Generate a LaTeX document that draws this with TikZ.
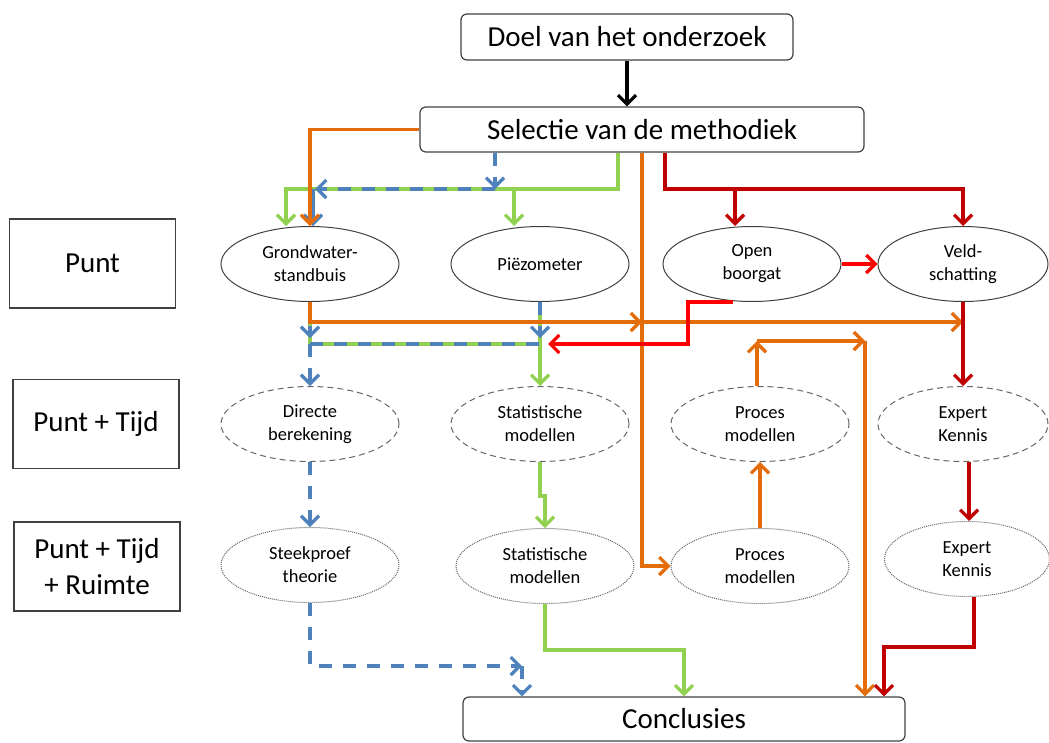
\documentclass[tikz,border=0pt]{standalone}
\usepackage{fontspec}
\setmainfont{Carlito}
\usetikzlibrary{shapes.geometric,arrows.meta}
\usepackage{xcolor}

\definecolor{oranje}{HTML}{E46C0A}
\definecolor{groen}{HTML}{92D050}
\definecolor{blauw}{HTML}{4F81BD}
\definecolor{donkerrood}{HTML}{C00000}
\definecolor{rood}{HTML}{FF0000}

\begin{document}
\begin{tikzpicture}[x=1pt, y=-1pt,
	box/.style={draw=black!75, rounded corners=6pt, line width=1.2pt, minimum width=332pt, minimum height=46pt, font=\fontsize{29}{34}\selectfont},
	niveau/.style={draw=black!75, line width=1.2pt, minimum width=166pt, minimum height=89pt, align=center, font=\fontsize{29}{36}\selectfont},
	meting/.style={ellipse, draw=black!75, line width=1pt, minimum width=178pt, minimum height=75pt, inner sep=0pt, align=center, font=\fontsize{18.5}{23}\selectfont},
	model/.style={meting, draw=black!60, dash pattern=on 6pt off 4pt},
	ruimte/.style={meting, draw=black!60, dash pattern=on 1pt off 1pt},
	pijl/.style={line width=3.2pt, -{Straight Barb[length=9pt,width=18pt]}},
	lijn/.style={line width=3.2pt},
	streep/.style={dash pattern=on 13pt off 11pt},
]
\useasboundingbox (0,0) rectangle (1049,742);

\node[box] (doel) at (627,37) {Doel van het onderzoek};
\node[box, minimum width=444pt, minimum height=45pt] (selectie) at (642,129.5) {Selectie van de methodiek};
\node[box, minimum width=442pt, minimum height=44pt] (concl) at (684,719) {Conclusies};

\node[niveau] (punt) at (92.5,263.5) {Punt};
\node[niveau] (punttijd) at (96,424) {Punt + Tijd};
\node[niveau] (puntruimte) at (97,566.5) {Punt + Tijd\\+ Ruimte};

\node[meting] (gws) at (310,264) {Grondwater-\\standbuis};
\node[meting] (piezo) at (540,264) {Piëzometer};
\node[meting] (open) at (752,264) {Open\\boorgat};
\node[meting, minimum width=170pt] (veld) at (963,264) {Veld-\\schatting};

\node[model] (direct) at (310,424) {Directe\\berekening};
\node[model] (stat1) at (540,424) {Statistische\\modellen};
\node[model] (proces1) at (760,424) {Proces\\modellen};
\node[model, minimum width=170pt] (expert1) at (963,424) {Expert\\Kennis};

\node[ruimte] (steek) at (310,565) {Steekproef\\theorie};
\node[ruimte] (stat2) at (545,566) {Statistische\\modellen};
\node[ruimte] (proces2) at (760,566) {Proces\\modellen};
\node[ruimte, minimum width=165pt] (expert2) at (967,559) {Expert\\Kennis};

% rijen voor de knikken
\coordinate (r1) at (0,189);
\coordinate (r2) at (0,322);
\coordinate (r3) at (0,344);
\coordinate (r4) at (0,341);
\coordinate (r5) at (0,666);
\coordinate (hoek) at (865,341);

\draw[pijl] (doel.south) -- (doel.south |- selectie.north);

% groen
\draw[pijl, groen] ([xshift=-24pt]selectie.south) |- ([xshift=-24pt]gws.north |- r1) -- ([xshift=-24pt]gws.north);
\draw[pijl, groen] ([xshift=-26pt]piezo.north |- r1) -- ([xshift=-26pt]piezo.north);
\draw[lijn, groen] (gws.south) |- (piezo.south |- r3);
\draw[pijl, groen] (piezo.south) -- (stat1.north);
\draw[pijl, groen] (stat1.south) -- ++(0,34) -| (stat2.north);
\draw[pijl, groen] (stat2.south) -- ++(0,46) -| (concl.north);

% blauw
\draw[pijl, blauw, streep] ([xshift=-147pt]selectie.south) -- ([xshift=-147pt]selectie.south |- r1);
\draw[pijl, blauw, streep] ([xshift=-147pt]selectie.south |- r1) -- ([xshift=5pt]gws.north |- r1);
\draw[pijl, blauw] ([xshift=3pt]gws.north |- r1) -- ([xshift=3pt]gws.north);
\draw[pijl, blauw, streep] (gws.south) -- ++(0,36);
\draw[pijl, blauw, streep] (piezo.south) -- ++(0,36);
\draw[lijn, blauw, streep] (gws.south |- r3) -- (piezo.south |- r3);
\draw[pijl, blauw, streep] (gws.south |- r3) -- (direct.north);
\draw[pijl, blauw, streep] (direct) -- (steek);
\draw[pijl, blauw, streep] (steek.south) |- ([xshift=-162pt]concl.north |- r5);
\draw[pijl, blauw, streep] ([xshift=-162pt]concl.north |- r5) -- ([xshift=-162pt]concl.north);

% oranje
\draw[pijl, oranje] (selectie.west) -| (gws.north);
\draw[pijl, oranje] (selectie.south) |- (proces2.west);
\draw[pijl, oranje] (gws.south) |- (selectie.south |- r2);
\draw[pijl, oranje] (selectie.south |- r2) -- (veld.south |- r2);
\draw[pijl, oranje] (proces2) -- (proces1);
\draw[pijl, oranje] ([xshift=-3pt]proces1.north) -- ([xshift=-3pt]proces1.north |- r4);
\draw[pijl, oranje] ([xshift=-3pt]proces1.north |- r4) -- (hoek);
\draw[pijl, oranje] (hoek) -- ([xshift=181pt]concl.north);

% rood
\draw[pijl, donkerrood] ([xshift=23pt]selectie.south) |- (veld.north |- r1) -- (veld.north);
\draw[pijl, donkerrood] ([xshift=-17pt]open.north |- r1) -- ([xshift=-17pt]open.north);
\draw[pijl, donkerrood] (veld) -- (expert1);
\draw[pijl, donkerrood] ([xshift=6pt]expert1.south) -- ([xshift=6pt]expert1.south |- expert2.north);
\draw[pijl, donkerrood] ([xshift=7pt]expert2.south) -- ++(0,50) -| ([xshift=200pt]concl.north);
\draw[pijl, rood] (open) -- (veld);
\draw[pijl, rood] ([xshift=-19pt]open.south) -- ++(-45,0) |- ([xshift=8pt]piezo.south |- r3);

\end{tikzpicture}
\end{document}
